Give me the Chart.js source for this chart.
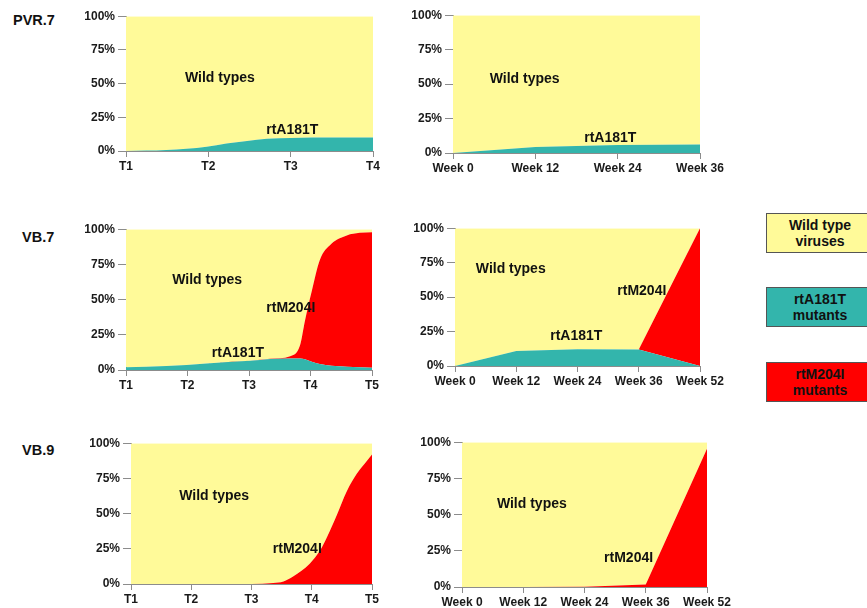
<!DOCTYPE html>
<html>
<head>
<meta charset="utf-8">
<script src="https://cdn.jsdelivr.net/npm/chart.js@4/dist/chart.umd.min.js"></script>
<style>
  html, body { margin: 0; padding: 0; background: #fff; }
  body { position: relative; width: 867px; height: 608px; overflow: hidden;
         font-family: "Liberation Sans", Arial, sans-serif; color: #111; }
  canvas { position: absolute; }
  .pid { position: absolute; font-weight: bold; font-size: 14.5px; line-height: 16px; }
  .key { position: absolute; left: 766px; width: 108px; height: 40px; box-sizing: border-box;
         border: 1px solid #555; display: flex; align-items: center; justify-content: center;
         text-align: center; font-weight: bold; font-size: 14px; line-height: 16px; }
</style>
</head>
<body>
<div class="pid" style="left:13px;top:12px">PVR.7</div>
<div class="pid" style="left:22px;top:229px">VB.7</div>
<div class="pid" style="left:22px;top:442px">VB.9</div>

<div class="key" style="top:213px;background:#FFFA99">Wild type<br>viruses</div>
<div class="key" style="top:287px;background:#33B5AC">rtA181T<br>mutants</div>
<div class="key" style="top:362px;background:#FF0000">rtM204I<br>mutants</div>

<script>
// ---- axis labels ----
const timeLabels4 = ['T1', 'T2', 'T3', 'T4'];
const timeLabels5 = ['T1', 'T2', 'T3', 'T4', 'T5'];
const weekLabels4 = ['Week 0', 'Week 12', 'Week 24', 'Week 36'];
const weekLabels5 = ['Week 0', 'Week 12', 'Week 24', 'Week 36', 'Week 52'];
const percentLabels = ['0%', '25%', '50%', '75%', '100%'];

// ---- PVR.7 (percent of viral population) ----
const pvr7TimeX     = [1, 1.49, 1.98, 2.22, 2.47, 2.71, 3.0, 3.52, 4];
const pvr7TimeA181T = [0, 0.7, 3.2, 5.6, 7.5, 9.0, 9.7, 10, 10];
const pvr7TimeWild  = [100, 99.3, 96.8, 94.4, 92.5, 91.0, 90.3, 90, 90];

const pvr7WeekA181T = [0, 4.4, 5.8, 6.2];
const pvr7WeekWild  = [100, 95.6, 94.2, 93.8];

// ---- VB.7 ----
const vb7TimeX     = [1, 1.66, 2.31, 3.02, 3.34, 3.67, 3.83, 3.91, 4.02, 4.15, 4.34, 4.59, 4.8, 5];
const vb7TimeA181T = [1.9, 2.8, 4.7, 6.5, 7.8, 8.2, 8.2, 7.6, 5.8, 4.2, 3.0, 2.3, 1.9, 1.6];
const vb7TimeM204I = [0, 0, 0, 0, 0.2, 1.6, 9.3, 27.4, 50.2, 73.8, 86.7, 93.3, 95.5, 96.3];
const vb7TimeWild  = [98.1, 97.2, 95.3, 93.5, 92.0, 90.2, 82.5, 65.0, 44.0, 22.0, 10.3, 4.4, 2.6, 2.1];

const vb7WeekA181T = [0, 10.9, 12.1, 11.9, 0];
const vb7WeekM204I = [0, 0, 0, 0, 100];
const vb7WeekWild  = [100, 89.1, 87.9, 88.1, 0];

// ---- VB.9 ----
const vb9TimeX     = [1, 2, 3, 3.36, 3.53, 3.69, 3.97, 4.14, 4.25, 4.42, 4.58, 4.75, 4.92, 5];
const vb9TimeM204I = [0, 0, 0, 0.7, 1.8, 5.3, 14.6, 23.9, 33, 49.4, 65.7, 78.4, 87.7, 92];
const vb9TimeWild  = [100, 100, 100, 99.3, 98.2, 94.7, 85.4, 76.1, 67, 50.6, 34.3, 21.6, 12.3, 8];

const vb9WeekM204I = [0, 0, 0.2, 1.8, 95.5];
const vb9WeekWild  = [100, 100, 99.8, 98.2, 4.5];

// ---- colours ----
const COLORS = { wild: '#FFFA99', a181t: '#33B5AC', m204i: '#FF0000' };
const AXIS = '#8c8c8c';
const FONT = '"Liberation Sans", Arial, sans-serif';

// Text placed inside the plot at data coordinates
const notesPlugin = {
  id: 'notes',
  afterDatasetsDraw(chart, args, opts) {
    const { ctx, scales: { x, y } } = chart;
    ctx.save();
    ctx.font = 'bold 14px ' + FONT;
    ctx.fillStyle = '#111';
    ctx.textAlign = 'center';
    ctx.textBaseline = 'middle';
    (opts.items || []).forEach(n => {
      ctx.fillText(n.text, x.getPixelForValue(n.x), y.getPixelForValue(n.y));
    });
    ctx.restore();
  }
};

const Y_AXIS_W = 60, X_AXIS_H = 30, PAD_TOP = 8, PAD_RIGHT = 36;

function makePanel(cfg) {
  const plotW = cfg.right - cfg.left, plotH = cfg.bottom - cfg.top;
  const canvas = document.createElement('canvas');
  canvas.width = plotW + Y_AXIS_W + PAD_RIGHT;
  canvas.height = plotH + PAD_TOP + X_AXIS_H;
  canvas.style.left = (cfg.left - Y_AXIS_W) + 'px';
  canvas.style.top = (cfg.top - PAD_TOP) + 'px';
  document.body.appendChild(canvas);

  // stacked bottom-up: first series fills to the axis, each next one to the one below
  const datasets = cfg.series.map((s, i) => ({
    data: cfg.xValues ? cfg.xValues.map((xv, j) => ({ x: xv, y: s.data[j] })) : s.data,
    backgroundColor: s.color,
    borderColor: s.color,
    borderWidth: 0,
    pointRadius: 0,
    fill: i === 0 ? 'origin' : '-1',
    cubicInterpolationMode: cfg.smooth ? 'monotone' : 'default',
    tension: 0
  }));

  const tickFont = { family: FONT, size: 12, weight: 'bold' };
  const xScale = cfg.xValues ? {
    type: 'linear', min: 1, max: cfg.labels.length,
    ticks: { stepSize: 1, callback: v => cfg.labels[v - 1] }
  } : { type: 'category', offset: false };
  Object.assign(xScale, {
    z: 1,
    grid: { drawOnChartArea: false, drawTicks: true, tickLength: 6, color: AXIS },
    border: { display: true, color: AXIS },
    afterFit: s => { s.height = X_AXIS_H; }
  });
  xScale.ticks = Object.assign(xScale.ticks || {}, {
    font: tickFont, color: '#1a1a1a', padding: 2, maxRotation: 0, autoSkip: false
  });

  new Chart(canvas, {
    type: 'line',
    data: { labels: cfg.xValues ? undefined : cfg.labels, datasets },
    options: {
      responsive: false,
      animation: false,
      devicePixelRatio: 1,
      layout: { padding: { top: PAD_TOP, right: PAD_RIGHT, left: 0, bottom: 0 } },
      plugins: { legend: { display: false }, tooltip: { enabled: false }, notes: { items: cfg.notes } },
      scales: {
        x: xScale,
        y: {
          z: 1,
          stacked: true, min: 0, max: 100,
          grid: { drawOnChartArea: false, drawTicks: true, tickLength: 8, color: AXIS },
          border: { display: true, color: AXIS },
          ticks: { stepSize: 25, font: tickFont, color: '#1a1a1a', padding: 3,
                   callback: v => percentLabels[v / 25] },
          afterFit: s => { s.width = Y_AXIS_W; }
        }
      }
    },
    plugins: [notesPlugin]
  });
}

// PVR.7
makePanel({
  left: 126, top: 14, right: 373, bottom: 151, smooth: true,
  labels: timeLabels4, xValues: pvr7TimeX,
  series: [{ data: pvr7TimeA181T, color: COLORS.a181t }, { data: pvr7TimeWild, color: COLORS.wild }],
  notes: [{ text: 'Wild types', x: 2.14, y: 54 }, { text: 'rtA181T', x: 3.02, y: 15.3 }]
});
makePanel({
  left: 453, top: 13, right: 700, bottom: 153,
  labels: weekLabels4,
  series: [{ data: pvr7WeekA181T, color: COLORS.a181t }, { data: pvr7WeekWild, color: COLORS.wild }],
  notes: [{ text: 'Wild types', x: 0.87, y: 53.6 }, { text: 'rtA181T', x: 1.91, y: 10.7 }]
});

// VB.7
makePanel({
  left: 126, top: 227, right: 372, bottom: 370, smooth: true,
  labels: timeLabels5, xValues: vb7TimeX,
  series: [{ data: vb7TimeA181T, color: COLORS.a181t }, { data: vb7TimeM204I, color: COLORS.m204i },
           { data: vb7TimeWild, color: COLORS.wild }],
  notes: [{ text: 'Wild types', x: 2.32, y: 64 }, { text: 'rtM204I', x: 3.68, y: 44 },
          { text: 'rtA181T', x: 2.82, y: 11.9 }]
});
makePanel({
  left: 455, top: 226, right: 700, bottom: 366,
  labels: weekLabels5,
  series: [{ data: vb7WeekA181T, color: COLORS.a181t }, { data: vb7WeekM204I, color: COLORS.m204i },
           { data: vb7WeekWild, color: COLORS.wild }],
  notes: [{ text: 'Wild types', x: 0.91, y: 70.4 }, { text: 'rtM204I', x: 3.05, y: 54.6 },
          { text: 'rtA181T', x: 1.98, y: 21.8 }]
});

// VB.9
makePanel({
  left: 131, top: 441, right: 372, bottom: 584, smooth: true,
  labels: timeLabels5, xValues: vb9TimeX,
  series: [{ data: vb9TimeM204I, color: COLORS.m204i }, { data: vb9TimeWild, color: COLORS.wild }],
  notes: [{ text: 'Wild types', x: 2.38, y: 62.4 }, { text: 'rtM204I', x: 3.76, y: 24.6 }]
});
makePanel({
  left: 462, top: 440, right: 707, bottom: 587,
  labels: weekLabels5,
  series: [{ data: vb9WeekM204I, color: COLORS.m204i }, { data: vb9WeekWild, color: COLORS.wild }],
  notes: [{ text: 'Wild types', x: 1.14, y: 57 }, { text: 'rtM204I', x: 2.72, y: 19.8 }]
});
</script>
</body>
</html>
